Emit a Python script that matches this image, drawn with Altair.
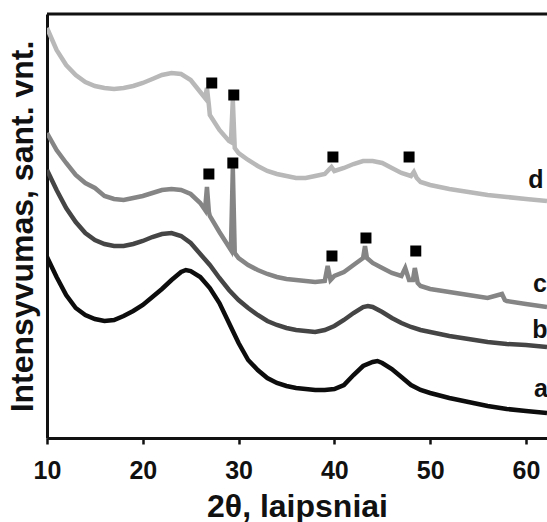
import altair as alt
import pandas as pd

# --- data (2θ in degrees, intensity in arbitrary units) ---
a_x = [10, 11, 12, 13, 14, 15, 16, 17, 18, 19, 20, 21, 22, 23, 24, 24.5, 25, 26, 27, 28, 29, 30, 31, 32, 33, 34, 35, 36, 37, 38, 39, 40, 41, 42, 43, 44, 44.5, 45, 46, 47, 48, 49, 50, 52, 54, 56, 58, 60, 62.2]
a_y = [181, 161, 143, 130, 123, 119, 117, 118, 122, 127, 133, 141, 149, 158, 166, 168, 167, 161, 150, 135, 115, 95, 78, 68, 60, 55, 52, 50, 49, 48, 48, 49, 53, 63, 72, 76, 77, 75, 69, 61, 53, 48, 45, 40, 36, 32, 29, 27, 25]

b_x = [10, 11, 12, 13, 14, 15, 16, 17, 18, 19, 20, 21, 22, 23, 24, 25, 26, 27, 28, 29, 30, 31, 32, 33, 34, 35, 36, 37, 38, 39, 40, 41, 42, 43, 43.5, 44, 45, 46, 47, 48, 49, 50, 52, 54, 56, 58, 60, 62.2]
b_y = [268, 248, 230, 216, 205, 198, 194, 192, 192, 194, 197, 201, 204, 205, 202, 195, 184, 173, 160, 148, 138, 130, 123, 117, 113, 110, 108, 107, 106, 108, 112, 118, 125, 131, 132, 131, 126, 120, 115, 111, 108, 106, 102, 99, 96, 94, 93, 91]

c_x = [10, 11, 12, 13, 14, 15, 16, 17, 18, 19, 20, 21, 22, 23, 24, 25, 26, 26.5, 26.7, 26.9, 27, 28, 29, 29.2, 29.4, 29.6, 30, 31, 32, 33, 34, 35, 36, 37, 38, 39, 39.3, 39.6, 40, 41, 42, 43, 43.2, 43.4, 44, 45, 46, 47, 47.4, 47.8, 48.2, 48.4, 48.7, 49, 50, 52, 54, 56, 57.5, 57.8, 58, 60, 62.2]
c_y = [305, 288, 275, 263, 255, 250, 242, 239, 238, 240, 242, 245, 248, 249, 248, 244, 235, 228, 251, 226, 222, 206, 191, 188, 270, 185, 180, 173, 168, 164, 161, 159, 158, 157, 156, 157, 172, 158, 162, 166, 173, 180, 192, 180, 175, 170, 165, 162, 170, 158, 158, 170, 155, 152, 149, 146, 143, 140, 144, 138, 137, 134, 131]

d_x = [10, 11, 12, 13, 14, 15, 16, 17, 18, 19, 20, 21, 22, 23, 24, 25, 26, 26.5, 26.7, 26.9, 27, 28, 29, 29.2, 29.4, 29.6, 30, 31, 32, 33, 34, 35, 36, 37, 38, 39, 39.7, 40, 41, 42, 43, 44, 45, 46, 47, 48, 48.3, 48.6, 49, 50, 52, 54, 56, 58, 60, 62.2]
d_y = [410, 388, 373, 363, 356, 352, 350, 349, 350, 352, 355, 359, 363, 365, 364, 358, 346, 340, 350, 333, 323, 308, 297, 296, 338, 290, 285, 278, 272, 267, 264, 262, 260, 260, 262, 264, 271, 267, 270, 274, 277, 277, 275, 270, 265, 262, 266, 260, 256, 253, 249, 246, 243, 241, 239, 237]

marker_x = [27.2, 29.5, 39.85, 47.8, 26.9, 29.4, 39.75, 43.3, 48.5]
marker_y = [355, 343, 281, 281, 264, 275, 182, 200, 187]

label_text = ["a", "b", "c", "d"]
label_x = [61.57, 61.46, 61.46, 61.05]
label_y = [49, 108, 154, 258]

series_names = ["a", "b", "c", "d"]
series_colors = ["#0d0d0d", "#454545", "#858585", "#b8b8b8"]
x_ticks = [10, 20, 30, 40, 50, 60]

rows = []
for name, xs, ys in [("a", a_x, a_y), ("b", b_x, b_y), ("c", c_x, c_y), ("d", d_x, d_y)]:
    for xv, yv in zip(xs, ys):
        rows.append({"x": xv, "y": yv, "s": name})
lines_df = pd.DataFrame(rows)
markers_df = pd.DataFrame({"x": marker_x, "y": marker_y})
labels_df = pd.DataFrame({"x": label_x, "y": label_y, "t": label_text})

FONT = "Liberation Sans"
xscale = alt.Scale(domain=[10, 62.2], nice=False, zero=False)
yscale = alt.Scale(domain=[0, 424], nice=False, zero=False)

xaxis = alt.Axis(
    values=x_ticks, title="2θ, laipsniai", grid=False,
    labelFont=FONT, labelFontSize=25, labelFontWeight="bold", labelColor="#111",
    labelPadding=14, tickSize=6, tickWidth=2.5, tickColor="#111",
    domainColor="#111", domainWidth=3,
    titleFont=FONT, titleFontSize=32, titleFontWeight="bold", titleColor="#111",
    titlePadding=8, labelFlush=False,
)
yaxis = alt.Axis(
    title="Intensyvumas, sant. vnt.", grid=False, labels=False, ticks=False,
    domainColor="#111", domainWidth=3,
    titleFont=FONT, titleFontSize=32, titleFontWeight="bold", titleColor="#111",
    titlePadding=8,
)

lines = alt.Chart(lines_df).mark_line(strokeWidth=4.5, clip=True).encode(
    x=alt.X("x:Q", scale=xscale, axis=xaxis),
    y=alt.Y("y:Q", scale=yscale, axis=yaxis),
    color=alt.Color("s:N", scale=alt.Scale(domain=series_names, range=series_colors), legend=None),
    detail="s:N",
)

markers = alt.Chart(markers_df).mark_point(shape="square", filled=True, size=121, color="#000", opacity=1).encode(
    x=alt.X("x:Q", scale=xscale),
    y=alt.Y("y:Q", scale=yscale),
)

labels = alt.Chart(labels_df).mark_text(font=FONT, fontSize=25, fontWeight="bold", color="#111",
                                        align="center", baseline="middle").encode(
    x=alt.X("x:Q", scale=xscale),
    y=alt.Y("y:Q", scale=yscale),
    text="t:N",
)

top_border = alt.Chart(pd.DataFrame({"k": [0]})).mark_rule(color="#111", strokeWidth=3).encode(
    x=alt.value(0), x2=alt.value(500), y=alt.value(0)
)

chart = alt.layer(lines, markers, labels, top_border).properties(
    width=500, height=424,
    padding={"left": 47, "top": 14, "right": 0, "bottom": 84},
    autosize=alt.AutoSizeParams(type="none"),
).configure_view(stroke=None).configure(background="white")

chart.save("out.html", embed_options={"renderer": "svg", "actions": False})
